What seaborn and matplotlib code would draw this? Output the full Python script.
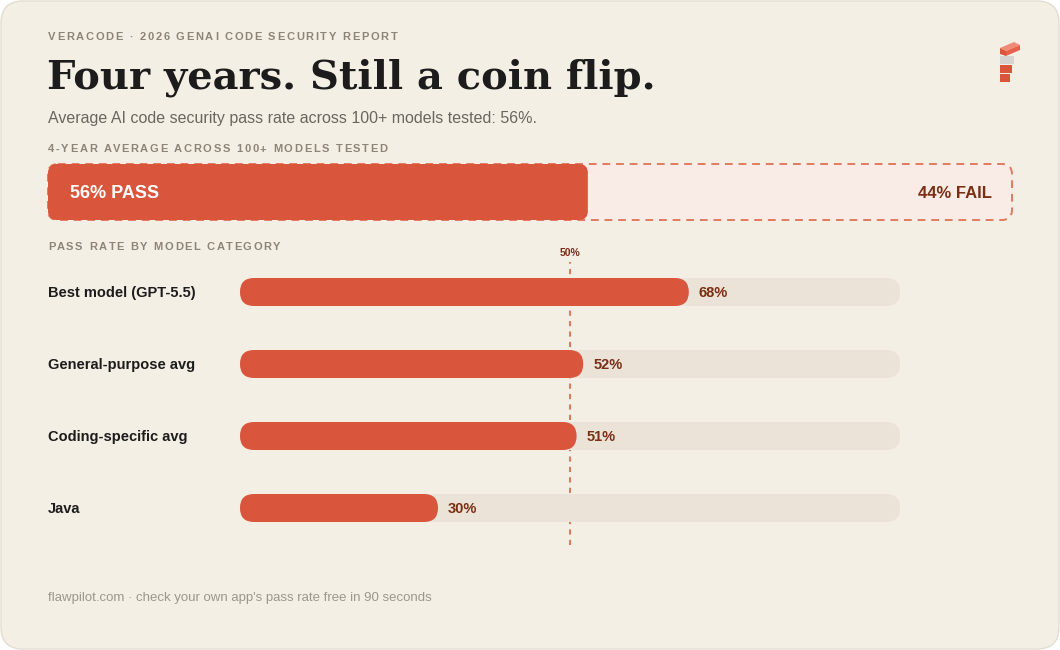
"""Veracode GenAI code security pass rates, drawn as rounded bar pills"""
import matplotlib
matplotlib.use('Agg')
import matplotlib.pyplot as plt
from matplotlib.patches import FancyBboxPatch, Polygon
from matplotlib.font_manager import FontProperties
from matplotlib.textpath import TextToPath
from matplotlib.transforms import blended_transform_factory
import seaborn as sns

# Data
categories = ['Best model (GPT-5.5)', 'General-purpose avg',
              'Coding-specific avg', 'Java']
pass_rates = [68, 52, 51, 30]
overall_pass = 56
overall_fail = 100 - overall_pass
threshold = 50

# Colours
CARD = '#F4EFE5'
RED = '#D9553B'
TRACK = '#EBE3D7'
FAIL_BG = '#F9EBE5'
DASH = '#E07A5F'
DARK = '#1C1C1C'
BROWN = '#7A2E14'
GREY = '#8C8577'

sns.set_style('white')
plt.rcParams['font.family'] = ['Liberation Sans', 'DejaVu Sans']

W, H = 1060, 650
fig = plt.figure(figsize=(W / 100, H / 100), dpi=100, facecolor='white')
renderer = fig.canvas.get_renderer()

# Pixel-space canvas for the card and texts
bg = fig.add_axes([0, 0, 1, 1], zorder=0)
bg.set_xlim(0, W)
bg.set_ylim(H, 0)
bg.axis('off')
bg.add_patch(FancyBboxPatch((1, 1), W - 2, H - 2,
                            boxstyle='round,pad=0,rounding_size=22',
                            fc=CARD, ec='#E3DDD1', lw=1))


def px_axes(x0, y0, x1, y1, **kw):
    """Axes placed by pixel box (top-left origin)"""
    return fig.add_axes([x0 / W, (H - y1) / H, (x1 - x0) / W, (y1 - y0) / H], **kw)


t2p = TextToPath()


def spaced_text(x, y, s, size=8, spacing=1.7, color=GREY):
    """Letter-spaced bold caps label; y is the baseline"""
    prop = FontProperties(family='Liberation Sans', weight='bold', size=size)
    bar = t2p.get_text_width_height_descent('|', prop, ismath=False)[0]
    for i, ch in enumerate(s):
        if ch == ' ':
            continue
        w = t2p.get_text_width_height_descent(s[:i] + '|', prop, ismath=False)[0] - bar if i else 0
        bg.text(x + w * 100 / 72 + i * spacing, y, ch, fontproperties=prop,
                color=color, va='baseline')


def to_px(patch):
    """Rectangle of a drawn bar, in canvas pixels"""
    bb = patch.get_window_extent(renderer)
    (x0, y0), (x1, y1) = bg.transData.inverted().transform([[bb.x0, bb.y0], [bb.x1, bb.y1]])
    return min(x0, x1), min(y0, y1), abs(x1 - x0), abs(y1 - y0)


def pill(ax, patch, color, radius, z, **kw):
    x, y, w, h = to_px(patch)
    patch.set_visible(False)
    ax.add_patch(FancyBboxPatch((x, y), w, h,
                                boxstyle=f'round,pad=0,rounding_size={radius}',
                                fc=color, transform=bg.transData, clip_on=False,
                                zorder=z, **kw))
    return x, y, w, h


# Headings
spaced_text(48, 40.5, 'VERACODE · 2026 GENAI CODE SECURITY REPORT')
bg.text(47, 78, 'Four years. Still a coin flip.', fontsize=28.8, fontweight='bold',
        family='DejaVu Serif', color=DARK, va='center')
bg.text(48, 118, 'Average AI code security pass rate across 100+ models tested: 56%.',
        fontsize=11.5, color='#6A665F', va='center')
spaced_text(48, 152.5, '4-YEAR AVERAGE ACROSS 100+ MODELS TESTED')
spaced_text(48, 250.5, 'PASS RATE BY MODEL CATEGORY')
bg.text(48, 598, "flawpilot.com · check your own app's pass rate free in 90 seconds",
        fontsize=9.5, color='#9C978D', va='center')

# Logo
for pts, c in [([(1000, 48), (1014, 42), (1020, 45), (1006, 51)], '#F28B76'),
               ([(1000, 48), (1006, 51), (1006, 56), (1000, 54)], RED),
               ([(1006, 51), (1020, 45), (1020, 50), (1006, 56)], '#E8604A'),
               ([(1000, 56), (1014, 56), (1014, 64), (1000, 64)], '#D6D4D0'),
               ([(1000, 65), (1012, 65), (1012, 73), (1000, 73)], RED),
               ([(1000, 74), (1010, 74), (1010, 82), (1000, 82)], RED)]:
    bg.add_patch(Polygon(pts, closed=True, fc=c, ec='none'))

# 4-year average bar
ax_top = px_axes(48, 164, 1012, 220, zorder=1)
sns.barplot(x=[100], y=['avg'], color=FAIL_BG, width=1.0, orient='h', ax=ax_top)
sns.barplot(x=[overall_pass], y=['avg'], color=RED, width=1.0, orient='h', ax=ax_top)
ax_top.set_xlim(0, 100)
ax_top.set_ylim(0.5, -0.5)
ax_top.axis('off')
ax_top.patch.set_alpha(0)
fig.canvas.draw()
fx, fy, fw, fh = pill(ax_top, ax_top.patches[0], FAIL_BG, 10, 2,
                      ec=DASH, lw=1.4, ls=(0, (4, 3)))
px, py, pw, ph = pill(ax_top, ax_top.patches[1], RED, 9, 3, ec='none')
ax_top.text(px + 22, py + ph / 2 + 1, f'{overall_pass}% PASS', fontsize=13,
            fontweight='bold', color='white', va='center',
            transform=bg.transData, zorder=5)
ax_top.text(fx + fw - 20, fy + fh / 2 + 1, f'{overall_fail}% FAIL', fontsize=12,
            fontweight='bold', color=BROWN, va='center', ha='right',
            transform=bg.transData, zorder=5)

# Category bars
ax = px_axes(240, 256, 900, 544, zorder=1)
sns.barplot(x=[100] * len(categories), y=categories, color=TRACK,
            width=28 / 72, orient='h', ax=ax)
sns.barplot(x=pass_rates, y=categories, color=RED,
            width=28 / 72, orient='h', ax=ax)
ax.set_xlim(0, 100)
ax.set_ylim(len(categories) - 0.5, -0.5)
ax.axis('off')
ax.patch.set_alpha(0)
ax.axvline(threshold, ymin=-0.005, ymax=0.98, color=DASH, lw=1.5,
           ls=(0, (2.5, 2.5)), zorder=1, clip_on=False)
ax.text(threshold, 253, f'{threshold}%',
        transform=blended_transform_factory(ax.transData, bg.transData),
        fontsize=7.5, fontweight='bold', color=BROWN, ha='center', va='center')
fig.canvas.draw()

n = len(categories)
tracks, fills = ax.patches[:n], ax.patches[n:2 * n]
for patch in tracks:
    pill(ax, patch, TRACK, 14, 2, ec='none')
for patch, name, rate in zip(fills, categories, pass_rates):
    x, y, w, h = pill(ax, patch, RED, 14, 3, ec='none')
    bg.text(48, y + h / 2 + 1, name, fontsize=10.5, fontweight='bold',
            color=DARK, va='center')
    ax.text(x + w + 10, y + h / 2 + 1, f'{rate}%', fontsize=10.5, fontweight='bold',
            color=BROWN, va='center', transform=bg.transData, zorder=5)

fig.savefig('out.png', dpi=100, facecolor='white')
